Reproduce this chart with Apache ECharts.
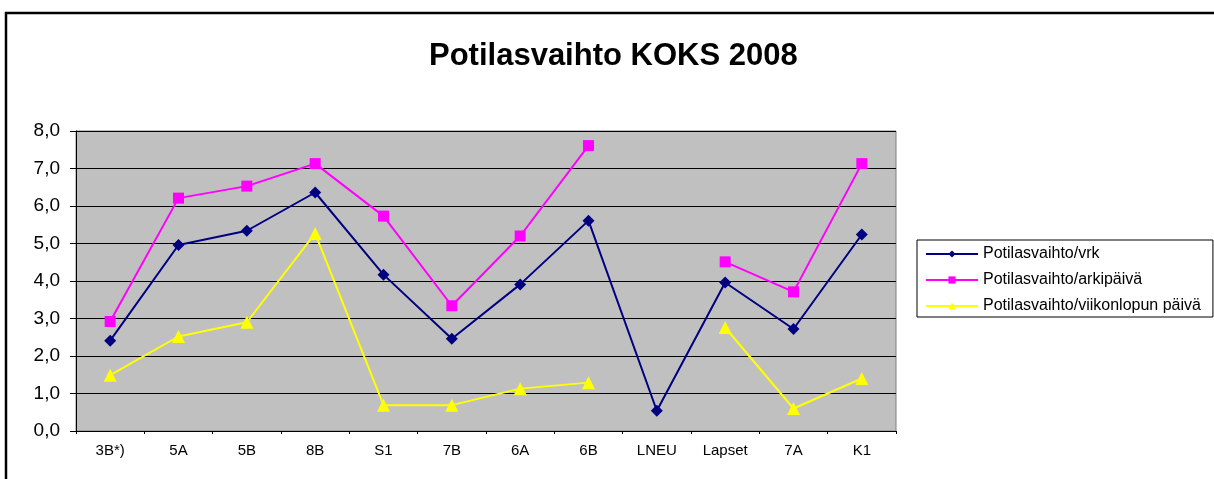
<!DOCTYPE html>
<html>
<head>
<meta charset="utf-8">
<script src="https://cdn.jsdelivr.net/npm/echarts@6/dist/echarts.min.js"></script>
<style>
  html, body { margin: 0; padding: 0; background: #fff; }
  #chart { width: 1214px; height: 479px; }
</style>
</head>
<body>
<div id="chart"></div>
<script>
// 骨架数据：分类、三条系列
const categories = ['3B*)', '5A', '5B', '8B', 'S1', '7B', '6A', '6B', 'LNEU', 'Lapset', '7A', 'K1'];
const vrk = [2.41, 4.96, 5.34, 6.36, 4.17, 2.46, 3.91, 5.61, 0.54, 3.96, 2.72, 5.24];
const arkipaiva = [2.92, 6.21, 6.53, 7.13, 5.73, 3.34, 5.20, 7.61, null, 4.51, 3.71, 7.13];
const viikonloppu = [1.49, 2.52, 2.90, 5.27, 0.69, 0.69, 1.13, 1.29, null, 2.76, 0.60, 1.40];
const yTicks = { min: 0, max: 8, interval: 1 };

const FONT = 'Arial, "Liberation Sans", sans-serif';
const inst = echarts.init(document.getElementById('chart'));

const lineSeries = (name, data, color, symbol, size) => ({
  name, type: 'line', data, connectNulls: false,
  symbol, symbolSize: size,
  lineStyle: { color, width: 2 },
  itemStyle: { color },
  emphasis: { disabled: true },
  animation: false,
});

inst.setOption({
  backgroundColor: '#fff',
  animation: false,
  // 外框：右、下两边在画面之外
  graphic: [{
    type: 'rect', z: -1,
    shape: { x: 6, y: 13, width: 1230, height: 490 },
    style: { fill: '#fff', stroke: '#000', lineWidth: 2.5 },
  }],
  title: {
    text: 'Potilasvaihto KOKS 2008',
    left: 424, top: 36,
    textStyle: { fontFamily: FONT, fontSize: 31, fontWeight: 'bold', color: '#000' },
  },
  legend: {
    orient: 'vertical',
    left: 917, top: 240,
    padding: [6, 12, 3, 8],
    itemGap: 10,
    itemWidth: 52, itemHeight: 9,
    borderColor: '#000', borderWidth: 1,
    textStyle: { fontFamily: FONT, fontSize: 16, color: '#000' },
    data: ['Potilasvaihto/vrk', 'Potilasvaihto/arkipäivä', 'Potilasvaihto/viikonlopun päivä'],
  },
  grid: {
    left: 76, top: 131, right: 318, bottom: 48,
    show: true, backgroundColor: '#c0c0c0', borderColor: '#808080', borderWidth: 1,
  },
  xAxis: {
    type: 'category', data: categories, boundaryGap: true,
    axisLine: { lineStyle: { color: '#000', width: 1 } },
    axisTick: { show: true, length: 3, interval: 0, lineStyle: { color: '#000' } },
    axisLabel: { fontFamily: FONT, fontSize: 15, color: '#000', margin: 12, interval: 0 },
  },
  yAxis: {
    type: 'value', min: yTicks.min, max: yTicks.max, interval: yTicks.interval,
    axisLine: { show: true, lineStyle: { color: '#000', width: 1 } },
    axisTick: { show: true, length: 6, lineStyle: { color: '#000' } },
    splitLine: { lineStyle: { color: '#000', width: 1 } },
    axisLabel: {
      fontFamily: FONT, fontSize: 19, color: '#000', margin: 16,
      formatter: v => v.toFixed(1).replace('.', ','),
    },
  },
  series: [
    lineSeries('Potilasvaihto/vrk', vrk, '#000080', 'diamond', 12),
    lineSeries('Potilasvaihto/arkipäivä', arkipaiva, '#ff00ff', 'rect', 11),
    lineSeries('Potilasvaihto/viikonlopun päivä', viikonloppu, '#ffff00', 'triangle', 13),
  ],
});
</script>
</body>
</html>
